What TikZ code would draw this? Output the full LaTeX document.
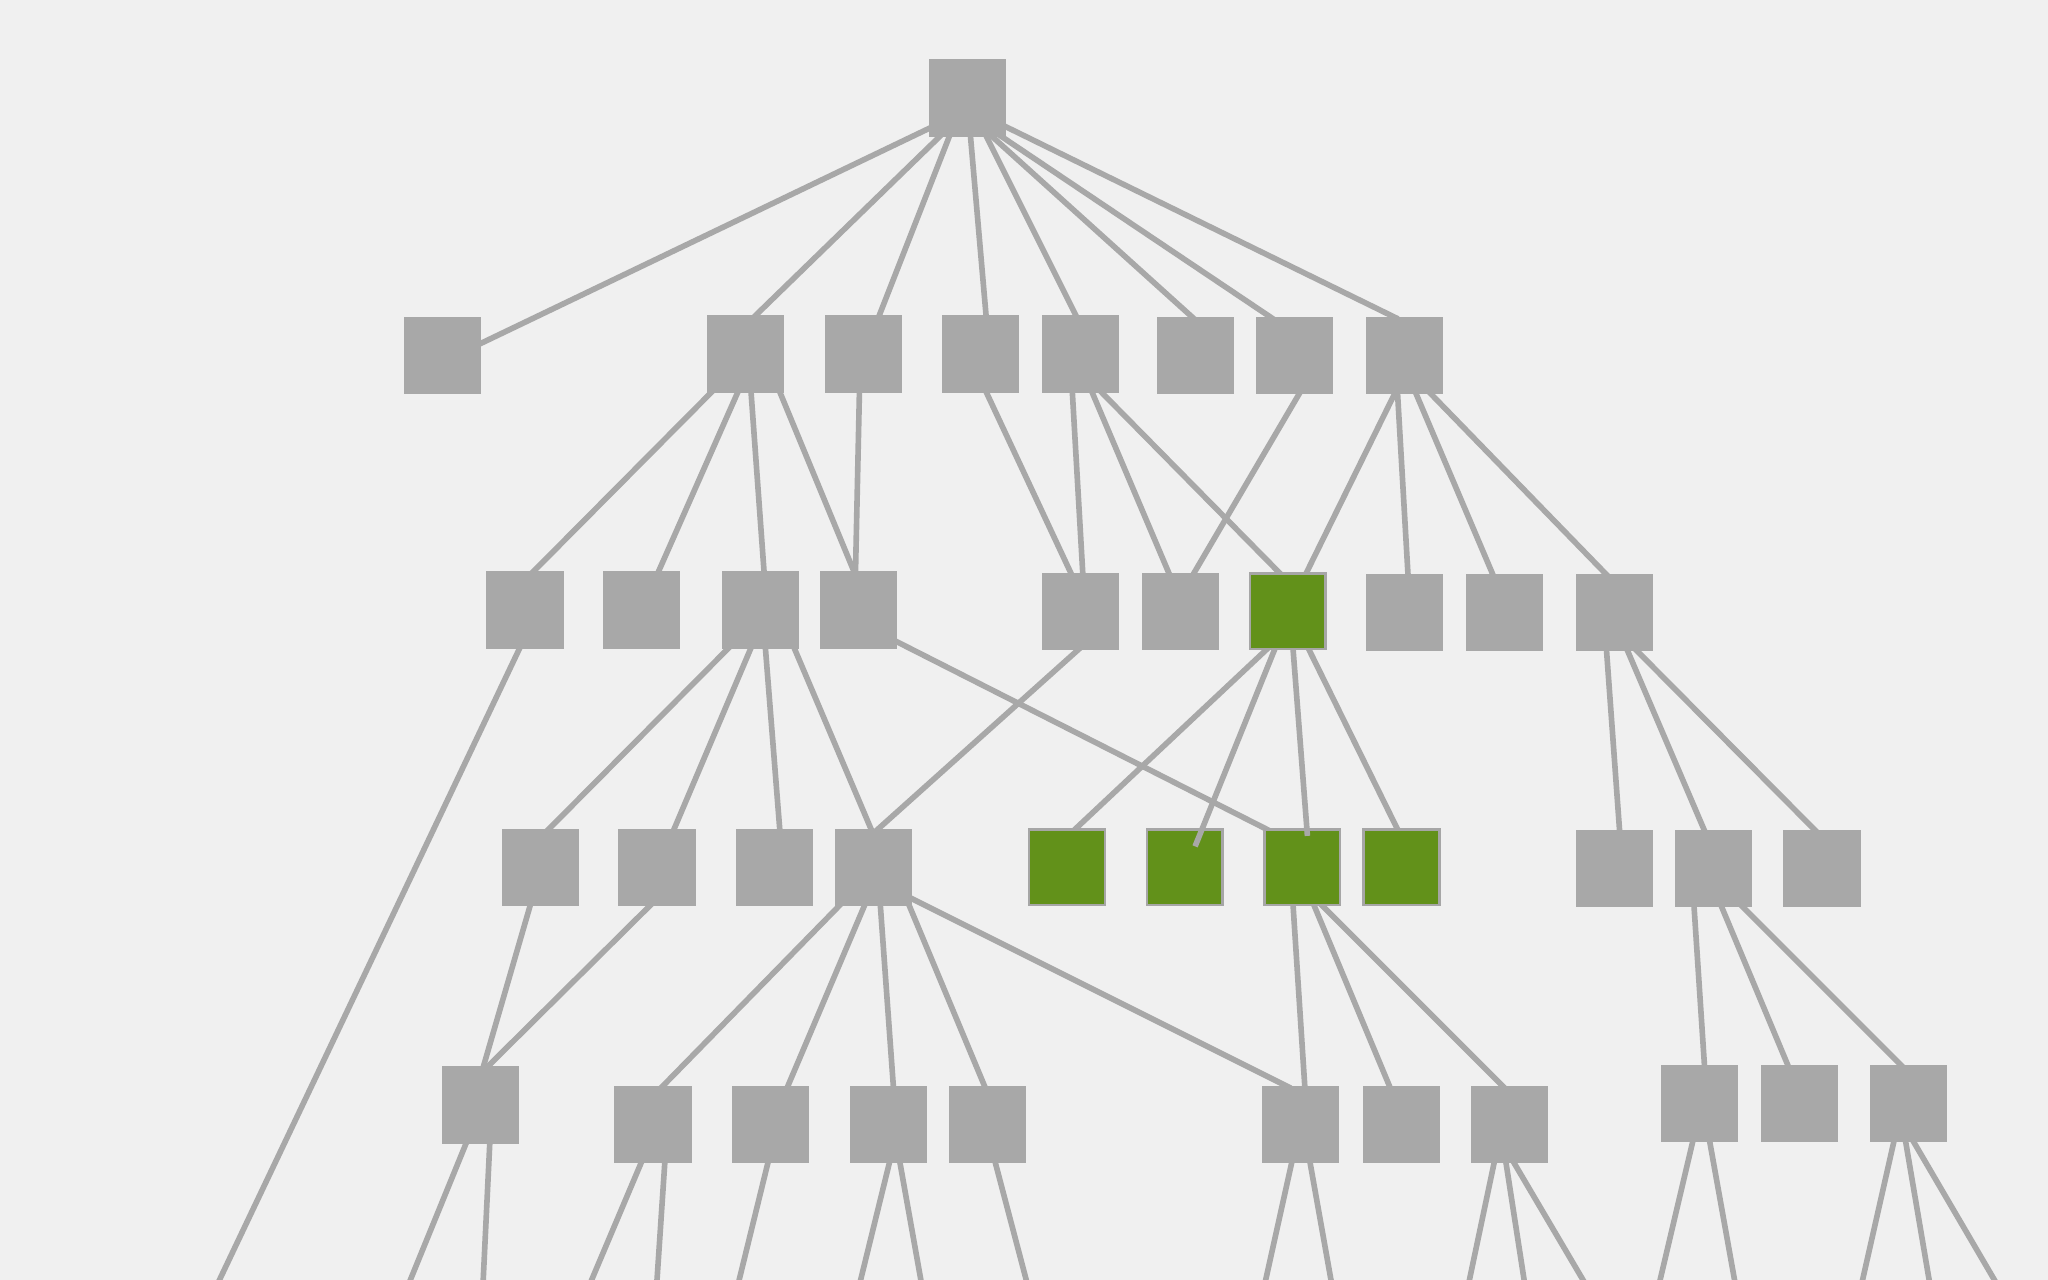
\documentclass[tikz,border=0pt]{standalone}
\usetikzlibrary{calc}
\definecolor{bgc}{HTML}{F0F0F0}
\definecolor{boxc}{HTML}{A8A8A8}
\definecolor{boxedge}{HTML}{A6A6A6}
\definecolor{greenc}{HTML}{62911A}
\definecolor{linec}{HTML}{A8A8A8}
\pgfdeclarelayer{bg}
\pgfdeclarelayer{edges}
\pgfdeclarelayer{top}
\pgfsetlayers{bg,edges,main,top}
\newcommand\lnk[4]{\draw[edge] ($(#1)+(#2)$) -- ($(#3)+(#4)$);}
\begin{document}
\begin{tikzpicture}[x=0.01306cm,y=-0.01306cm,
  box/.style={rectangle,minimum size=0.7575cm,inner sep=0pt,fill=boxc,draw=boxc,line width=0.4pt},
  gbox/.style={box,fill=greenc,draw=boxedge,line width=0.7pt},
  edge/.style={draw=linec,line width=1.6pt,shorten <=-1pt,shorten >=-1pt},
  topedge/.style={draw=linec,line width=1.6pt}]
\useasboundingbox (0,0) rectangle (1568,980);
\begin{pgfonlayer}{bg}
\fill[bgc] (0,0) rectangle (1568,980);
\end{pgfonlayer}
% row 0
\node[box] (root) at (741,75) {};
% row 1
\node[box] (A) at (339,272) {};
\node[box] (B) at (571,271) {};
\node[box] (C) at (661,271) {};
\node[box] (D) at (751,271) {};
\node[box] (E) at (827,271) {};
\node[box] (F) at (915,272) {};
\node[box] (G) at (991,272) {};
\node[box] (H) at (1075,272) {};
% row 2
\node[box] (I) at (402,467) {};
\node[box] (J) at (491,467) {};
\node[box] (K) at (582,467) {};
\node[box] (L) at (657,467) {};
\node[box] (M) at (827,468) {};
\node[box] (N) at (904,468) {};
\node[gbox] (O) at (986,468) {};
\node[box] (P) at (1075,469) {};
\node[box] (Q) at (1152,469) {};
\node[box] (R) at (1236,469) {};
% row 3
\node[box] (S) at (414,664) {};
\node[box] (T) at (503,664) {};
\node[box] (U) at (593,664) {};
\node[box] (V) at (669,664) {};
\node[gbox] (W) at (817,664) {};
\node[gbox] (X) at (907,664) {};
\node[gbox] (Y) at (997,664) {};
\node[gbox] (Z) at (1073,664) {};
\node[box] (AA) at (1236,665) {};
\node[box] (AB) at (1312,665) {};
\node[box] (AC) at (1395,665) {};
% row 4
\node[box] (AD) at (368,846) {};
\node[box] (AE) at (500,861) {};
\node[box] (AF) at (590,861) {};
\node[box] (AG) at (680,861) {};
\node[box] (AH) at (756,861) {};
\node[box] (AI) at (996,861) {};
\node[box] (AJ) at (1073,861) {};
\node[box] (AK) at (1156,861) {};
\node[box] (AL) at (1301,845) {};
\node[box] (AM) at (1378,845) {};
\node[box] (AN) at (1461,845) {};
% off-page ends
\coordinate (e0) at (158.5,1000);
\coordinate (e1) at (306,1000);
\coordinate (e2) at (369,1000);
\coordinate (e3) at (444.5,1000);
\coordinate (e4) at (501.7,1000);
\coordinate (e5) at (561,1000);
\coordinate (e6) at (654,1000);
\coordinate (e7) at (708.6,1000);
\coordinate (e8) at (791,1000);
\coordinate (e9) at (964.6,1000);
\coordinate (e10) at (1022.6,1000);
\coordinate (e11) at (1120.8,1000);
\coordinate (e12) at (1170,1000);
\coordinate (e13) at (1223.8,1000);
\coordinate (e14) at (1266.3,1000);
\coordinate (e15) at (1331.6,1000);
\coordinate (e16) at (1421.5,1000);
\coordinate (e17) at (1480.4,1000);
\coordinate (e18) at (1538.7,1000);
\begin{pgfonlayer}{edges}
\begin{scope}
\clip (0,0) rectangle (1568,980);
\lnk{root}{-29,23}{A}{29,-9}
\lnk{root}{-21,29}{B}{7,-29}
\lnk{root}{-14,29}{C}{12,-29}
\lnk{root}{2,29}{D}{4,-29}
\lnk{root}{14,29}{E}{-3,-29}
\lnk{root}{18,29}{F}{-2,-29}
\lnk{root}{22,27}{G}{-18,-29}
\lnk{root}{29,22}{H}{-7,-29}
\lnk{B}{-26,29}{I}{6,-29}
\lnk{B}{-6,29}{J}{13,-29}
\lnk{B}{4,29}{K}{3,-29}
\lnk{B}{26,29}{L}{-3,-29}
\lnk{C}{-3,29}{L}{-2,-29}
\lnk{D}{4,29}{M}{-7,-29}
\lnk{E}{-6,29}{M}{2,-29}
\lnk{E}{9,29}{N}{-9,-29}
\lnk{E}{16,29}{O}{-6,-29}
\lnk{G}{4,29}{N}{10,-29}
\lnk{H}{-7,29}{O}{14,-29}
\lnk{H}{-5,29}{P}{3,-29}
\lnk{H}{9,29}{Q}{-9,-29}
\lnk{H}{20,29}{R}{-6,-29}
\draw[edge] ($(I)+(-4,29)$) -- (e0);
\lnk{K}{-24,29}{S}{6,-29}
\lnk{K}{-7,29}{T}{13,-29}
\lnk{K}{4,29}{U}{4,-29}
\lnk{K}{26,29}{V}{-2,-29}
\lnk{L}{29,24}{Y}{-27,-29}
\lnk{M}{-1,29}{V}{3,-29}
\lnk{O}{-16,29}{W}{6,-29}
\lnk{O}{16,29}{Z}{-3,-29}
\lnk{R}{-6,29}{AA}{4,-29}
\lnk{R}{10,29}{AB}{-7,-29}
\lnk{R}{17,29}{AC}{-5,-29}
\lnk{S}{-8,29}{AD}{2,-29}
\lnk{T}{-5,29}{AD}{5,-29}
\lnk{V}{-26,29}{AE}{7,-29}
\lnk{V}{-7,29}{AF}{13,-29}
\lnk{V}{5,29}{AG}{4,-29}
\lnk{V}{27,29}{AH}{-2,-29}
\lnk{V}{29,24}{AI}{-10,-29}
\lnk{Y}{-7,29}{AI}{3,-29}
\lnk{Y}{9,29}{AJ}{-9,-29}
\lnk{Y}{15,29}{AK}{-5,-29}
\lnk{AB}{-15,29}{AL}{4,-29}
\lnk{AB}{6,29}{AM}{-9,-29}
\lnk{AB}{22,29}{AN}{-5,-29}
\draw[edge] ($(AD)+(-11,29)$) -- (e1);
\draw[edge] ($(AD)+(7,29)$) -- (e2);
\draw[edge] ($(AE)+(-9,29)$) -- (e3);
\draw[edge] ($(AE)+(9,29)$) -- (e4);
\draw[edge] ($(AF)+(-2,29)$) -- (e5);
\draw[edge] ($(AG)+(1,29)$) -- (e6);
\draw[edge] ($(AG)+(9,29)$) -- (e7);
\draw[edge] ($(AH)+(6,29)$) -- (e8);
\draw[edge] ($(AI)+(-7,29)$) -- (e9);
\draw[edge] ($(AI)+(7,29)$) -- (e10);
\draw[edge] ($(AK)+(-12,29)$) -- (e11);
\draw[edge] ($(AK)+(-3,29)$) -- (e12);
\draw[edge] ($(AK)+(3,29)$) -- (e13);
\draw[edge] ($(AL)+(-5,29)$) -- (e14);
\draw[edge] ($(AL)+(8,29)$) -- (e15);
\draw[edge] ($(AN)+(-11,29)$) -- (e16);
\draw[edge] ($(AN)+(-2,29)$) -- (e17);
\draw[edge] ($(AN)+(4,29)$) -- (e18);
\end{scope}
\end{pgfonlayer}
\begin{pgfonlayer}{top}
\draw[topedge] ($(O)+(-10,29)$) -- ($(X)+(8,-16)$);
\draw[topedge] ($(O)+(4,29)$) -- ($(Y)+(4,-24)$);
\end{pgfonlayer}
\end{tikzpicture}
\end{document}
